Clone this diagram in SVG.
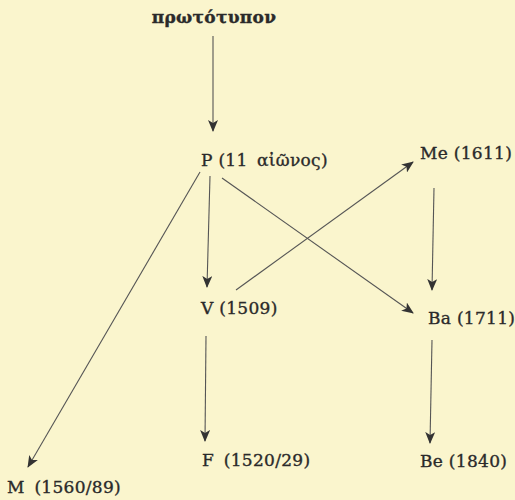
<svg xmlns="http://www.w3.org/2000/svg" width="515" height="500" viewBox="0 0 515 500">
<defs>
<style>
.t{font-family:"DejaVu Serif","Liberation Serif",serif;font-size:17px;letter-spacing:0.3px;fill:#2a2a2a;stroke:#2a2a2a;stroke-width:0.35}
.w{word-spacing:4px}
.e{stroke:#555;stroke-width:1.1;fill:none;marker-end:url(#ah)}
</style>
<marker id="ah" viewBox="0 0 12 10" refX="11" refY="5" markerWidth="12" markerHeight="10" markerUnits="userSpaceOnUse" orient="auto">
<path d="M0,0 L12,5 L0,10 L3,5 Z" fill="#333"/>
</marker>
</defs>
<rect width="515" height="500" fill="#faf5cd"/>
<g id="connectors">
<line class="e" x1="213" y1="36" x2="213" y2="131"/>
<line class="e" x1="210" y1="176" x2="207" y2="287"/>
<line class="e" x1="200" y1="172" x2="28" y2="467"/>
<line class="e" x1="222" y1="178" x2="413" y2="313"/>
<line class="e" x1="236" y1="290" x2="413" y2="162"/>
<line class="e" x1="206" y1="336" x2="205" y2="441"/>
<line class="e" x1="434" y1="188" x2="432" y2="290"/>
<line class="e" x1="432" y1="340" x2="430" y2="443"/>
</g>
<g id="n-proto"><text class="t" x="214" y="23" text-anchor="middle" font-size="18" font-weight="bold" letter-spacing="0">πρωτότυπον</text></g>
<g id="n-P"><text class="t" x="201" y="166">P (11<tspan x="257">αἰῶνος)</tspan></text></g>
<g id="n-Me"><text class="t" x="420" y="159">Me (1611)</text></g>
<g id="n-V"><text class="t" x="201" y="314">V (1509)</text></g>
<g id="n-Ba"><text class="t" x="428" y="324">Ba (1711)</text></g>
<g id="n-F"><text class="t w" x="202" y="466">F (1520/29)</text></g>
<g id="n-Be"><text class="t" x="420" y="467">Be (1840)</text></g>
<g id="n-M"><text class="t w" x="7" y="493">M (1560/89)</text></g>
</svg>
